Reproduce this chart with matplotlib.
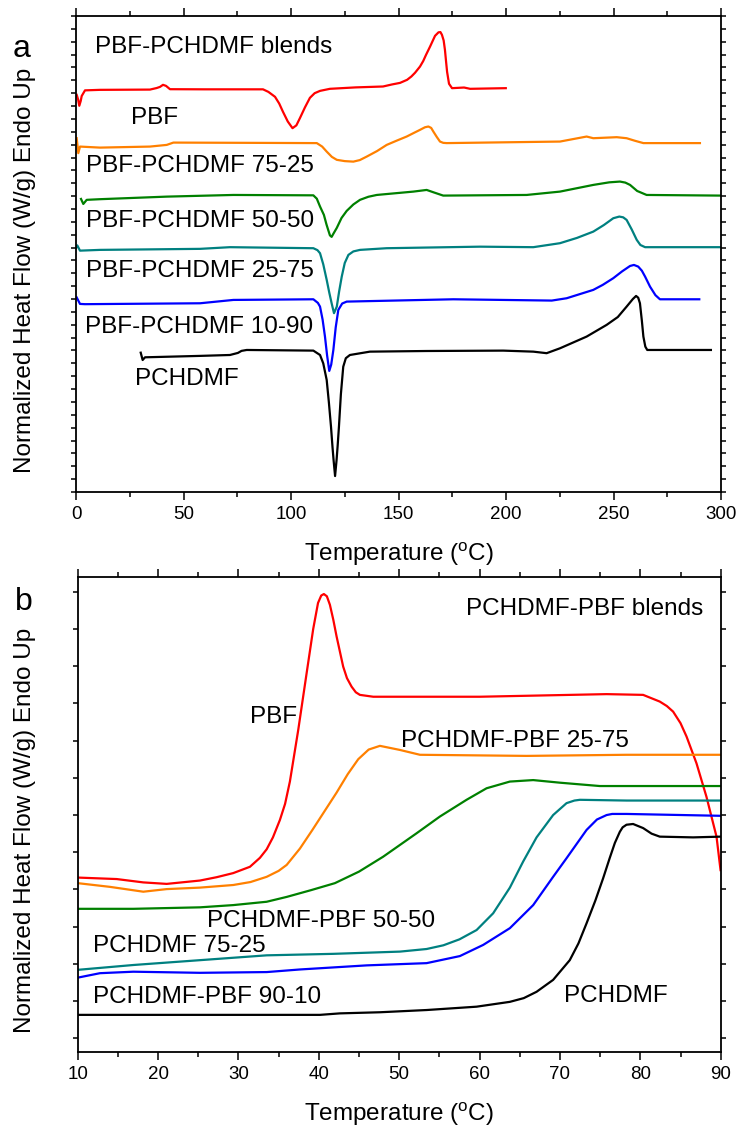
import matplotlib
matplotlib.use("Agg")
import matplotlib.pyplot as plt
from matplotlib.ticker import MultipleLocator, FixedLocator, NullFormatter

plt.rcParams['font.family'] = ['Liberation Sans', 'DejaVu Sans']
plt.rcParams['mathtext.default'] = 'regular'

# ---------------- Panel a data (temperature in degC, offset heat flow in tick units) -------------
a_pbf_T = [0.33, 1.0, 1.53, 2.2, 2.65, 4.19, 11.16, 34.4, 37.5, 39.07, 40.47, 41.86, 43.72, 60.0,
           86.98, 89.5, 92.56, 94.5, 96.28, 98.5, 100.7, 102.5, 104.2, 106.5, 108.8, 111.0, 113.5,
           118.1, 130.0, 142.8, 147.0, 150.7, 154.0, 156.0, 157.7, 160.0, 161.5, 162.8, 164.7,
           166.0, 167.0, 168.6, 169.5, 170.2, 171.0, 171.6, 172.1, 172.6, 173.5, 174.9, 180.5,
           183.3, 199.9]
a_pbf_y = [30.87, 30.5, 30.02, 30.4, 30.78, 31.22, 31.26, 31.28, 31.4, 31.49, 31.65, 31.57, 31.31, 31.3,
           31.30, 31.1, 30.72, 30.2, 29.55, 28.8, 28.28, 28.5, 29.08, 29.9, 30.64, 31.0, 31.18,
           31.34, 31.45, 31.52, 31.68, 31.80, 32.04, 32.3, 32.59, 33.07, 33.5, 33.98, 34.63,
           35.1, 35.46, 35.73, 35.75, 35.54, 35.1, 34.37, 33.5, 32.66, 31.73, 31.39, 31.44,
           31.34, 31.39]

a_7525_T = [0.33, 1.07, 1.86, 11.16, 34.4, 42.2, 45.3, 80.9, 112.0, 114.5, 116.6, 119.0, 121.3,
            125.0, 129.0, 132.0, 135.2, 140.0, 144.5, 149.0, 153.8, 157.0, 160.0, 162.3, 163.9,
            165.2, 166.2, 167.8, 169.3, 170.8, 172.4, 225.1, 237.5, 240.6, 251.5, 256.1, 260.0,
            263.9, 290.2]
a_7525_y = [27.50, 26.34, 26.85, 26.77, 26.85, 26.98, 27.16, 27.14, 27.12, 26.85, 26.46, 26.05, 25.82,
            25.72, 25.68, 25.8, 26.07, 26.5, 26.98, 27.3, 27.63, 27.9, 28.15, 28.35, 28.41,
            28.3, 28.02, 27.6, 27.24, 27.14, 27.12, 27.24, 27.63, 27.50, 27.58, 27.50, 27.3,
            27.12, 27.12]

a_5050_T = [2.33, 3.4, 4.98, 11.16, 42.2, 73.2, 110.4, 112.0, 113.5, 115.3, 116.5, 117.3, 118.1,
            118.9, 119.8, 121.3, 123.5, 125.9, 129.0, 132.1, 136.0, 139.9, 156.9, 163.1, 166.2,
            170.8, 209.6, 225.1, 240.6, 248.0, 253.0, 255.5, 257.7, 261.0, 265.4, 299.9]
a_5050_y = [22.78, 22.39, 22.71, 22.76, 22.96, 23.09, 23.06, 22.8, 22.19, 21.54, 20.8, 20.37, 19.95,
            19.83, 20.1, 20.53, 21.3, 21.85, 22.35, 22.71, 22.95, 23.09, 23.35, 23.48, 23.30,
            23.04, 23.09, 23.35, 23.87, 24.07, 24.13, 24.05, 23.87, 23.4, 23.09, 23.04]

a_2575_T = [0.0, 0.6, 1.86, 11.16, 57.7, 71.6, 110.4, 112.3, 113.5, 115.0, 116.6, 117.8, 118.9,
            120.0, 121.3, 122.4, 123.6, 125.0, 126.7, 129.0, 132.1, 144.5, 187.9, 212.7, 225.1,
            233.0, 240.6, 245.5, 249.9, 252.7, 254.5, 256.1, 258.5, 260.8, 262.5, 264.7, 299.9]
a_2575_y = [18.95, 19.17, 18.76, 18.82, 18.90, 19.03, 18.95, 18.8, 18.56, 17.7, 16.49, 15.5, 14.67,
            13.90, 14.41, 15.6, 16.74, 17.8, 18.43, 18.7, 18.82, 18.95, 19.07, 19.03, 19.34,
            19.75, 20.24, 20.75, 21.28, 21.41, 21.35, 21.15, 20.4, 19.60, 19.2, 19.03, 19.03]

a_1090_T = [0.33, 1.86, 4.19, 57.7, 73.2, 110.4, 112.5, 113.5, 114.7, 115.8, 116.8, 117.8, 118.7,
            119.7, 120.8, 122.0, 123.8, 125.9, 175.5, 221.3, 228.2, 240.6, 245.0, 249.9, 254.0,
            257.7, 259.5, 261.5, 263.2, 264.7, 267.0, 269.5, 271.6, 289.9]
a_1090_y = [15.12, 14.62, 14.60, 14.67, 14.93, 14.98, 14.7, 14.41, 13.4, 12.08, 10.6, 9.41, 9.9,
            11.04, 12.8, 14.15, 14.65, 14.80, 14.98, 14.88, 15.06, 15.71, 16.1, 16.62, 17.15,
            17.57, 17.65, 17.52, 17.2, 16.74, 15.96, 15.3, 14.98, 14.98]

a_pchdmf_T = [30.1, 31.0, 32.1, 57.7, 71.6, 75.3, 77.0, 79.4, 110.4, 113.5, 115.0, 116.6, 117.6,
              118.6, 119.3, 119.8, 120.5, 121.2, 121.7, 122.3, 123.2, 124.3, 125.5, 127.4, 136.7,
              163.1, 198.7, 212.7, 218.9, 225.1, 237.5, 246.8, 252.0, 256.1, 259.0, 260.5, 261.5,
              262.3, 263.2, 263.9, 264.8, 265.7, 295.3]
a_pchdmf_y = [10.83, 10.26, 10.47, 10.58, 10.65, 10.81, 10.97, 11.04, 10.99, 10.65, 10.0, 8.71, 7.0,
              5.08, 3.5, 2.49, 1.24, 2.49, 3.6, 5.08, 7.6, 9.74, 10.4, 10.65, 10.91,
              10.96, 10.99, 10.91, 10.79, 11.17, 12.08, 12.99, 13.6, 14.41, 15.0, 15.24, 15.1,
              14.67, 13.3, 12.08, 11.3, 11.04, 11.04]

a_labels = ["PBF-PCHDMF blends", "PBF", "PBF-PCHDMF 75-25", "PBF-PCHDMF 50-50",
            "PBF-PCHDMF 25-75", "PBF-PCHDMF 10-90", "PCHDMF"]
a_label_T = [8.84, 25.4, 4.6, 4.6, 4.6, 4.2, 27.4]
a_label_y = [34.11, 28.62, 24.91, 20.63, 16.72, 12.34, 8.32]

# ---------------- Panel b data -------------
b_pbf_T = [10.0, 14.85, 18.16, 21.07, 25.21, 27.29, 29.35, 31.43, 32.67, 33.51, 34.29, 35.16, 35.8,
           36.4, 37.44, 38.48, 39.3, 39.9, 40.3, 40.63, 41.0, 41.38, 41.8, 42.21, 43.03, 43.5,
           44.08, 44.6, 45.11, 46.77, 60.04, 75.8, 80.35, 82.42, 83.3, 84.08, 85.0, 85.75, 86.99,
           88.23, 89.48, 89.98]
b_pbf_y = [4.32, 4.28, 4.19, 4.15, 4.24, 4.33, 4.44, 4.61, 4.85, 5.08, 5.4, 5.87, 6.3,
           6.9, 8.29, 9.81, 11.0, 11.7, 11.9, 11.94, 11.88, 11.65, 11.25, 10.80, 9.99, 9.68,
           9.45, 9.3, 9.23, 9.18, 9.18, 9.25, 9.23, 9.05, 8.93, 8.78, 8.47, 8.11, 7.39,
           6.49, 5.42, 4.52]

b_2575_T = [10.0, 14.02, 18.16, 21.07, 25.21, 29.35, 31.5, 33.51, 35.0, 36.0, 37.65, 39.2, 40.7,
            42.2, 43.6, 44.9, 46.2, 47.6, 50.09, 52.58, 65.85, 78.28, 89.98]
b_2575_y = [4.17, 4.07, 3.94, 4.01, 4.05, 4.12, 4.2, 4.34, 4.5, 4.66, 5.1, 5.6, 6.1,
            6.6, 7.1, 7.5, 7.76, 7.86, 7.75, 7.62, 7.59, 7.62, 7.62]

b_5050_T = [10.0, 16.92, 25.21, 29.35, 33.51, 36.0, 39.0, 42.0, 45.0, 48.0, 52.16, 55.06, 58.38,
            60.87, 63.77, 66.67, 69.99, 74.96, 89.98]
b_5050_y = [3.48, 3.48, 3.52, 3.58, 3.67, 3.8, 3.98, 4.17, 4.48, 4.88, 5.51, 5.96, 6.41,
            6.72, 6.90, 6.94, 6.87, 6.78, 6.78]

b_7525_T = [10.0, 16.92, 25.21, 33.51, 41.79, 50.09, 53.41, 55.5, 57.5, 59.63, 61.69, 63.77, 65.42,
            67.09, 69.15, 70.82, 71.8, 72.48, 78.28, 89.98]
b_7525_y = [1.84, 1.97, 2.10, 2.23, 2.27, 2.33, 2.40, 2.5, 2.66, 2.91, 3.36, 4.05, 4.75,
            5.4, 6.00, 6.32, 6.39, 6.41, 6.39, 6.39]

b_9010_T = [10.0, 12.77, 16.92, 25.21, 33.51, 37.65, 45.95, 53.41, 57.55, 60.45, 63.77, 66.67, 69.15,
            70.82, 73.31, 74.6, 75.8, 76.5, 78.28, 89.98]
b_9010_y = [1.63, 1.75, 1.79, 1.76, 1.78, 1.85, 1.96, 2.02, 2.21, 2.51, 2.96, 3.58, 4.34,
            4.84, 5.60, 5.88, 6.00, 6.03, 6.03, 5.98]

b_pchdmf_T = [10.0, 40.14, 42.62, 47.6, 53.41, 59.63, 63.77, 65.5, 67.09, 69.15, 71.22, 72.3, 73.31,
              74.4, 75.37, 76.2, 76.83, 77.45, 77.8, 78.28, 79.1, 80.35, 81.4, 82.42, 86.57, 89.98]
b_pchdmf_y = [0.63, 0.63, 0.67, 0.70, 0.76, 0.85, 0.98, 1.08, 1.25, 1.57, 2.10, 2.55, 3.09,
              3.7, 4.3, 4.85, 5.25, 5.55, 5.67, 5.74, 5.76, 5.65, 5.5, 5.42, 5.40, 5.42]

b_labels = ["PCHDMF-PBF blends", "PBF", "PCHDMF-PBF 25-75", "PCHDMF-PBF 50-50",
            "PCHDMF 75-25", "PCHDMF-PBF 90-10", "PCHDMF"]
b_label_T = [58.3, 31.43, 50.17, 26.12, 11.87, 11.87, 70.49]
b_label_y = [11.38, 8.47, 7.84, 3.0, 2.33, 0.94, 0.98]

colors = ['#FF0000', '#FF8000', '#008000', '#008080', '#0000FF', '#000000']

fig = plt.figure(figsize=(7.37, 11.3), dpi=100)
W, H = 737.0, 1130.0

def axes_px(l, t, r, b):
    return fig.add_axes([l / W, 1 - b / H, (r - l) / W, (b - t) / H])

ax1 = axes_px(76, 16, 721, 492)
ax2 = axes_px(77.7, 577.3, 720.7, 1051.7)

lw = 1.6
for T, y, c in zip([a_pbf_T, a_7525_T, a_5050_T, a_2575_T, a_1090_T, a_pchdmf_T],
                   [a_pbf_y, a_7525_y, a_5050_y, a_2575_y, a_1090_y, a_pchdmf_y], colors):
    ax1.plot(T, y, color=c, lw=lw, solid_joinstyle='round')
for T, y, c in zip([b_pbf_T, b_2575_T, b_5050_T, b_7525_T, b_9010_T, b_pchdmf_T],
                   [b_pbf_y, b_2575_y, b_5050_y, b_7525_y, b_9010_y, b_pchdmf_y], colors):
    ax2.plot(T, y, color=c, lw=lw, solid_joinstyle='round')

fs_txt = 17.5
for s, x, y in zip(a_labels, a_label_T, a_label_y):
    ax1.text(x, y, s, fontsize=fs_txt, va='baseline', ha='left')
for s, x, y in zip(b_labels, b_label_T, b_label_y):
    ax2.text(x, y, s, fontsize=fs_txt, va='baseline', ha='left')

ax1.set_xlim(0, 300)
ax1.set_ylim(0, 37)
ax1.xaxis.set_major_locator(MultipleLocator(50))
ax1.xaxis.set_minor_locator(MultipleLocator(25))
ax1.yaxis.set_major_locator(FixedLocator(list(range(0, 38))))

ax2.set_xlim(10, 90)
ax2.set_ylim(-0.36, 12.39)
ax2.xaxis.set_major_locator(MultipleLocator(10))
ax2.xaxis.set_minor_locator(MultipleLocator(5))
ax2.yaxis.set_major_locator(FixedLocator(list(range(0, 13))))

for ax in (ax1, ax2):
    for sp in ax.spines.values():
        sp.set_linewidth(1.3)
    ax.yaxis.set_major_formatter(NullFormatter())
    ax.tick_params(axis='x', which='major', direction='out', length=6, width=1.1,
                   labelsize=13.5, pad=4, top=True, bottom=True)
    ax.tick_params(axis='x', which='minor', direction='out', length=3.5, width=1.1,
                   top=True, bottom=True)
    ax.tick_params(axis='y', which='major', direction='out', length=3.5, width=1.1,
                   left=True, right=True)
    ax.set_xlabel('Temperature ($^{o}$C)', fontsize=17.5, labelpad=13)
    ax.set_ylabel('Normalized Heat Flow (W/g) Endo Up', fontsize=17.5)
    ax.yaxis.label.set_va('center')

ax1.yaxis.set_label_coords(-0.079, 0.466)
ax2.yaxis.set_label_coords(-0.082, 0.466)

fig.text(13 / W, 1 - 57 / H, 'a', fontsize=23, ha='left', va='baseline')
fig.text(15 / W, 1 - 610 / H, 'b', fontsize=23, ha='left', va='baseline')

fig.savefig('out.png', dpi=100)
